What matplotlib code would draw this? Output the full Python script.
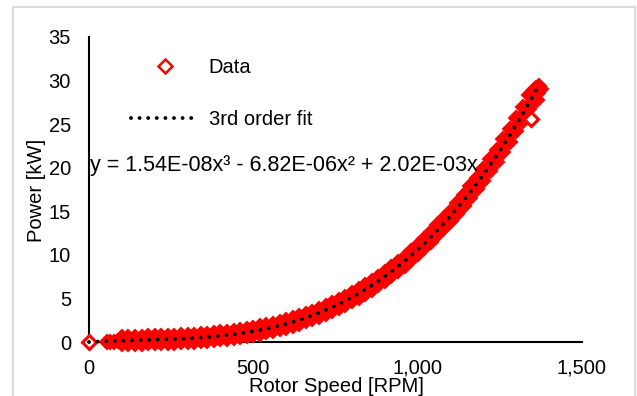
import numpy as np
import matplotlib
matplotlib.use("Agg")
import matplotlib.pyplot as plt
from matplotlib.patches import Rectangle
from matplotlib.lines import Line2D

plt.rcParams['font.family'] = ['Liberation Sans', 'DejaVu Sans']

# measured rotor speed / power (upper, middle and lower part of the scatter band)
rpm_grid = list(range(100, 1341, 20))
power_upper = [0.55, 0.57, 0.60, 0.61, 0.64, 0.65, 0.68, 0.71, 0.73, 0.77,
               0.81, 0.85, 0.91, 0.96, 1.04, 1.11, 1.20, 1.29, 1.40, 1.51,
               1.64, 1.78, 1.95, 2.12, 2.30, 2.50, 2.72, 2.97, 3.22, 3.50,
               3.79, 4.11, 4.45, 4.81, 5.19, 5.60, 6.03, 6.49, 6.97, 7.48,
               8.02, 8.59, 9.18, 9.80, 10.45, 11.14, 11.86, 12.62, 13.40, 14.22,
               15.08, 15.96, 16.89, 17.85, 18.85, 19.89, 20.98, 22.09, 23.25, 24.46,
               25.70, 26.99, 28.33]
power_lower = [-0.25, -0.23, -0.21, -0.19, -0.17, -0.14, -0.12, -0.10, -0.06, -0.03,
               0.01, 0.05, 0.10, 0.16, 0.22, 0.29, 0.38, 0.47, 0.58, 0.69,
               0.82, 0.96, 1.11, 1.28, 1.46, 1.66, 1.88, 2.11, 2.36, 2.62,
               2.91, 3.23, 3.55, 3.91, 4.27, 4.68, 5.09, 5.53, 6.01, 6.50,
               7.02, 7.57, 8.14, 8.76, 9.39, 10.06, 10.76, 11.48, 12.24, 13.04,
               13.86, 14.72, 15.63, 16.55, 17.53, 18.53, 19.58, 20.67, 21.79, 22.96,
               24.16, 25.41, 26.71]
rpm_mid = list(range(110, 1351, 20))
power_mid = [0.18, 0.15, 0.22, 0.20, 0.26, 0.25, 0.31, 0.30, 0.37, 0.36,
             0.45, 0.46, 0.55, 0.58, 0.69, 0.72, 0.85, 0.91, 1.06, 1.15,
             1.32, 1.43, 1.63, 1.77, 2.00, 2.17, 2.44, 2.64, 2.95, 3.19,
             3.53, 3.81, 4.20, 4.53, 4.96, 5.33, 5.81, 6.23, 6.76, 7.24,
             7.83, 8.35, 9.00, 9.57, 10.30, 10.92, 11.72, 12.40, 13.28, 14.00,
             14.96, 15.75, 16.78, 17.65, 18.75, 19.70, 20.88, 21.90, 23.18, 24.27,
             25.62, 26.80, 28.25]
# low speed points and top end cluster
rpm_top = [55, 65, 75, 88, 1330, 1335, 1350, 1355, 1360, 1362, 1365, 1370, 1375]
power_top = [0.0, 0.02, 0.05, 0.1, 26.4, 27.0, 28.3, 28.9, 29.2, 27.8, 28.6, 29.4, 29.0]
# isolated points (standstill and one outlier)
rpm_extra = [0, 1345]
power_extra = [0.0, 25.6]

# 3rd order fit coefficients (x^3, x^2, x, const)
fit_coef = [1.54e-08, -6.82e-06, 2.02e-03, 0.0]
fit_range = [0, 1370]

W, H = 637, 396
red = '#ff0000'
fig = plt.figure(figsize=(W / 100, H / 100), dpi=100)
ax = fig.add_axes([89 / W, 1 - 342 / H, (582 - 89) / W, (342 - 37) / H])

# dense overlapping hollow diamonds read as a solid band
band = dict(marker='D', ms=7.5, mfc=red, mec=red, mew=1.5, ls='none', clip_on=False)
ax.plot(rpm_grid, power_upper, **band)
ax.plot(rpm_grid, power_lower, **band)
ax.plot(rpm_mid, power_mid, **band)
ax.plot(rpm_top, power_top, **band)
ax.plot(rpm_extra, power_extra, marker='D', ms=7, mfc='white', mec=red, mew=2.2,
        ls='none', clip_on=False)

xf = np.linspace(fit_range[0], fit_range[1], 300)
ax.plot(xf, np.polyval(fit_coef, xf), color='black', lw=2.8,
        ls=(0, (0.01, 2.2)), dash_capstyle='round', clip_on=False)

ax.set_xlim(0, 1500)
ax.set_ylim(0, 35)
ax.set_xticks([0, 500, 1000, 1500])
ax.set_xticklabels(['0', '500', '1,000', '1,500'])
ax.set_yticks(range(0, 36, 5))
ax.tick_params(length=0, labelsize=14.5, pad=13)
ax.tick_params(axis='x', pad=12)
for s in ['top', 'right']:
    ax.spines[s].set_visible(False)
for s in ['left', 'bottom']:
    ax.spines[s].set_linewidth(1.5)
    ax.spines[s].set_zorder(0)

fig.text(336 / W, 1 - 386 / H, 'Rotor Speed [RPM]', ha='center', va='center', fontsize=14.5)
fig.text(36 / W, 1 - 190 / H, 'Power [kW]', ha='center', va='center', rotation=90, fontsize=14.5)

handles = [Line2D([], [], marker='D', ms=7, mfc='none', mec=red, mew=1.8, ls='none'),
           Line2D([], [], color='black', lw=2.8, ls=(0, (0.01, 2.2)), dash_capstyle='round')]
ax.legend(handles, ['Data', '3rd order fit'], loc='upper left',
          bbox_to_anchor=(131 / W, 1 - 58 / H), bbox_transform=fig.transFigure,
          frameon=False, fontsize=14.5, handlelength=3.4, handletextpad=0.45,
          labelspacing=1.65, borderpad=0, borderaxespad=0)

fig.text(90 / W, 1 - 165 / H, 'y = 1.54E-08x³ - 6.82E-06x² + 2.02E-03x',
         ha='left', va='center', fontsize=15.5)

fig.patches.append(Rectangle((13 / W, -0.05), (635 - 13) / W, 1.05 - 7 / H,
                             transform=fig.transFigure, fill=False,
                             edgecolor='#d9d9d9', lw=1.5))

fig.savefig('out.png', dpi=100)
